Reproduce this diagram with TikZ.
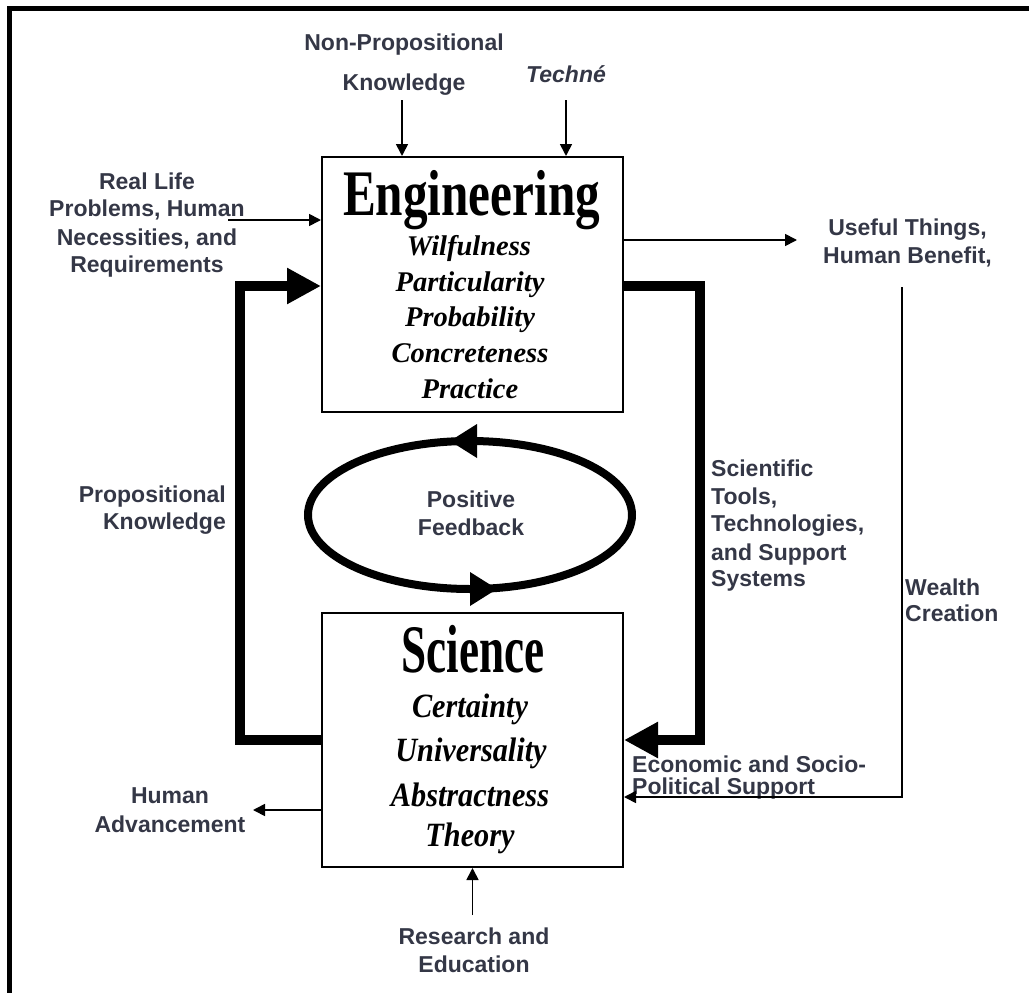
\documentclass[tikz,border=0pt]{standalone}
\usepackage{fontspec}
\setmainfont{Liberation Serif}
\setsansfont{Liberation Sans}
\usetikzlibrary{arrows.meta,shapes.geometric}
\definecolor{lab}{RGB}{52,55,70}
\newcommand\sciword[1]{\scalebox{0.89}[1]{#1}}
\begin{document}
\begin{tikzpicture}[x=1pt,y=-1pt,
  lbl/.style={font=\sffamily\bfseries\fontsize{23}{27.5}\selectfont, text=lab, inner sep=0pt},
  box/.style={draw, line width=2pt, minimum width=301pt, inner sep=0pt},
  smallarrow/.style={line width=1.7pt, -{Triangle[length=12pt,width=12pt]}},
  bigarrow/.style={line width=10pt, line join=miter, -{Triangle[length=34pt,width=34pt]}},
  ttl/.style={inner sep=0pt, anchor=base},
  engit/.style={inner sep=0pt, anchor=base, font=\bfseries\itshape\fontsize{28.5}{30}\selectfont},
  sciit/.style={inner sep=0pt, anchor=base, font=\bfseries\itshape\fontsize{34}{36}\selectfont},
]
\useasboundingbox (0,0) rectangle (1029,993);
% outer frame
\draw[line width=5pt] (9,1010) -- (9,8.5) -- (1045,8.5);

% boxes
\node[box, minimum height=255pt] (eng) at (472.5,284.5) {};
\node[box, minimum height=254pt] (sci) at (472.5,740) {};

% engineering text
\node[ttl] (engt) at (471.5,215) {\fontsize{65}{65}\selectfont\bfseries\scalebox{0.757}[1]{Engineering}};
\node[engit] (e1) at (469,255) {Wilfulness};
\node[engit] (e2) at (470,291.7) {Particularity};
\node[engit] (e3) at (470,326.7) {Probability};
\node[engit] (e4) at (470,362) {Concreteness};
\node[engit] (e5) at (470,398) {Practice};

% science text
\node[ttl] (scit) at (473,672) {\fontsize{68}{68}\selectfont\bfseries\scalebox{0.664}[1]{Science}};
\node[sciit] (s1) at (470,717) {\sciword{Certainty}};
\node[sciit] (s2) at (471,761.5) {\sciword{Universality}};
\node[sciit] (s3) at (470,806.5) {\sciword{Abstractness}};
\node[sciit] (s4) at (470,846) {\sciword{Theory}};

% labels
\node[lbl, anchor=base] (np1) at (404,50) {Non-Propositional};
\node[lbl, anchor=base] (np2) at (404,90) {Knowledge};
\node[lbl, anchor=base, font=\sffamily\bfseries\itshape\fontsize{23}{27.5}\selectfont] (tech) at (566,82) {Techné};

\node[lbl, anchor=base] (rl1) at (147,189) {Real Life};
\node[lbl, anchor=base] (rl2) at (147,216.7) {Problems, Human};
\node[lbl, anchor=base] (rl3) at (147,245) {Necessities, and};
\node[lbl, anchor=base] (rl4) at (147,272.7) {Requirements};

\node[lbl, anchor=base] (uf1) at (907.5,235) {Useful Things,};
\node[lbl, anchor=base] (uf2) at (907.5,263) {Human Benefit,};

\node[lbl, anchor=base east] (pk1) at (226,502) {Propositional};
\node[lbl, anchor=base east] (pk2) at (226,529.6) {Knowledge};

\node[lbl, anchor=base] (pf1) at (471,507) {Positive};
\node[lbl, anchor=base] (pf2) at (471,535) {Feedback};

\node[lbl, anchor=base west] (st1) at (711,476.7) {Scientific};
\node[lbl, anchor=base west] (st2) at (711,504) {Tools,};
\node[lbl, anchor=base west] (st3) at (711,531.7) {Technologies,};
\node[lbl, anchor=base west] (st4) at (711,560) {and Support};
\node[lbl, anchor=base west] (st5) at (711,586.7) {Systems};

\node[lbl, anchor=base west] (wc1) at (905,595) {Wealth};
\node[lbl, anchor=base west] (wc2) at (905,621.7) {Creation};

\node[lbl, anchor=base west] (ec1) at (632,772) {Economic and Socio-};
\node[lbl, anchor=base west] (ec2) at (632,794) {Political Support};

\node[lbl, anchor=base] (ha1) at (170,803.8) {Human};
\node[lbl, anchor=base] (ha2) at (170,832) {Advancement};

\node[lbl, anchor=base] (re1) at (474,944.5) {Research and};
\node[lbl, anchor=base] (re2) at (474,972.6) {Education};

% thin arrows
\coordinate (npt) at (402,100);
\coordinate (tct) at (566,100);
\coordinate (rlt) at (228,220);
\coordinate (uft) at (797,240);
\coordinate (ret) at (472.5,915);
\coordinate (hat) at (253,810);
\coordinate (wt1) at (902,287);
\coordinate (wt2) at (902,797);
\draw[smallarrow] (npt) -- (npt |- eng.north);
\draw[smallarrow] (tct) -- (tct |- eng.north);
\draw[smallarrow] (rlt) -- (rlt -| eng.west);
\draw[smallarrow] (uft -| eng.east) -- (uft);
\draw[smallarrow] (ret) -- (ret |- sci.south);
\draw[smallarrow] (hat -| sci.west) -- (hat);
\draw[smallarrow] (wt1) -- (wt2) -- (wt2 -| sci.east);

% thick arrows
\coordinate (pl1) at (240,740);
\coordinate (pl2) at (240,286);
\coordinate (pr1) at (700,286);
\coordinate (pr2) at (700,740);
\draw[bigarrow] (pl1 -| sci.west) -- (pl1) -- (pl2) -- (pl2 -| eng.west);
\draw[bigarrow] (pr1 -| eng.east) -- (pr1) -- (pr2) -- (pr2 -| sci.east);

% feedback ellipse
\node[draw, ellipse, line width=8pt, minimum width=324pt, minimum height=148pt, inner sep=0pt] (fb) at (470,515) {};
\fill (450,441) -- (477,424) -- (477,458) -- cycle;
\fill (497,589) -- (470,572) -- (470,606) -- cycle;
\end{tikzpicture}
\end{document}
